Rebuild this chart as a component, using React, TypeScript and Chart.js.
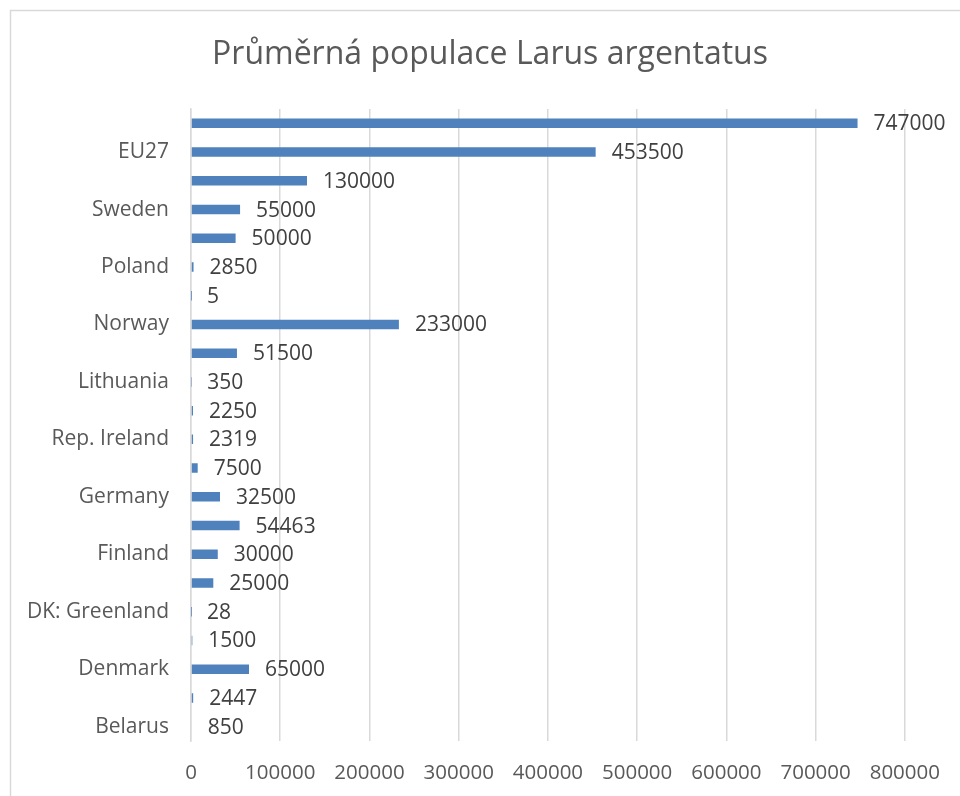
import React, { useEffect, useRef } from "react";
import { Chart, registerables } from "chart.js";

Chart.register(...registerables);

const titleText = "Průměrná populace Larus argentatus";

const categories: string[] = [
  "Europe",
  "EU27",
  "United Kingdom",
  "Sweden",
  "Russia",
  "Poland",
  "NO: Svalbard",
  "Norway",
  "Netherlands",
  "Lithuania",
  "Latvia",
  "Rep. Ireland",
  "Iceland",
  "Germany",
  "France",
  "Finland",
  "Estonia",
  "DK: Greenland",
  "DK: Faroe Islands",
  "Denmark",
  "Belgium",
  "Belarus",
];

const populationValues: number[] = [
  747000, 453500, 130000, 55000, 50000, 2850, 5, 233000, 51500, 350, 2250,
  2319, 7500, 32500, 54463, 30000, 25000, 28, 1500, 65000, 2447, 850,
];

const FONT = "'Open Sans', 'DejaVu Sans', sans-serif";

const framePlugin = {
  id: "frame",
  beforeDraw(chart: any) {
    const ctx = chart.ctx;
    ctx.save();
    ctx.fillStyle = "#ffffff";
    ctx.fillRect(0, 0, chart.width, chart.height);
    ctx.strokeStyle = "#d9d9d9";
    ctx.lineWidth = 1.5;
    ctx.strokeRect(10.5, 10.5, 2000, 2000);
    ctx.font = `32px ${FONT}`;
    ctx.fillStyle = "#595959";
    ctx.textAlign = "center";
    ctx.textBaseline = "middle";
    ctx.fillText(titleText, 490, 55);
    ctx.restore();
  },
};

const dataLabelPlugin = {
  id: "dataLabels",
  afterDatasetsDraw(chart: any) {
    const ctx = chart.ctx;
    const meta = chart.getDatasetMeta(0);
    const data = chart.data.datasets[0].data as number[];
    ctx.save();
    ctx.font = `21px ${FONT}`;
    ctx.fillStyle = "#404040";
    ctx.textAlign = "left";
    ctx.textBaseline = "middle";
    meta.data.forEach((bar: any, i: number) => {
      ctx.fillText(String(data[i]), bar.x + 16, bar.y + 1);
    });
    ctx.restore();
  },
};

export default function App() {
  const canvasRef = useRef<HTMLCanvasElement | null>(null);

  useEffect(() => {
    if (!canvasRef.current) return;
    const chart = new Chart(canvasRef.current, {
      type: "bar",
      data: {
        labels: categories,
        datasets: [
          {
            data: populationValues,
            backgroundColor: "#4f81bd",
            borderWidth: 0,
            categoryPercentage: 1,
            barPercentage: 0.33,
          },
        ],
      },
      options: {
        indexAxis: "y",
        animation: false,
        responsive: false,
        devicePixelRatio: 1,
        layout: { padding: { left: 0, right: 55, top: 109, bottom: 0 } },
        plugins: {
          legend: { display: false },
          tooltip: { enabled: false },
          title: { display: false },
        },
        scales: {
          x: {
            min: 0,
            max: 800000,
            ticks: {
              stepSize: 100000,
              color: "#595959",
              font: { family: FONT, size: 20.5 },
              padding: 20,
              maxRotation: 0,
              autoSkip: false,
              callback: (v: any) => String(v),
            },
            grid: { color: "#d9d9d9", lineWidth: 1.5, drawTicks: false },
            border: { display: false },
            afterFit(scale: any) {
              scale.height = 55;
            },
          },
          y: {
            ticks: {
              color: "#595959",
              font: { family: FONT, size: 21 },
              padding: 22,
              autoSkip: false,
              callback: function (this: any, _v: any, index: number) {
                return index % 2 === 1 ? categories[index] : "";
              },
            },
            grid: { display: false, drawTicks: false },
            border: { display: true, color: "#d9d9d9", width: 1.5 },
            afterFit(scale: any) {
              scale.width = 191;
            },
          },
        },
      },
      plugins: [framePlugin, dataLabelPlugin],
    });
    return () => chart.destroy();
  }, []);

  return (
    <div
      style={{
        position: "fixed",
        left: 0,
        top: 0,
        width: 960,
        height: 796,
        overflow: "hidden",
        background: "#fff",
      }}
    >
      <canvas ref={canvasRef} width={960} height={796} />
    </div>
  );
}
